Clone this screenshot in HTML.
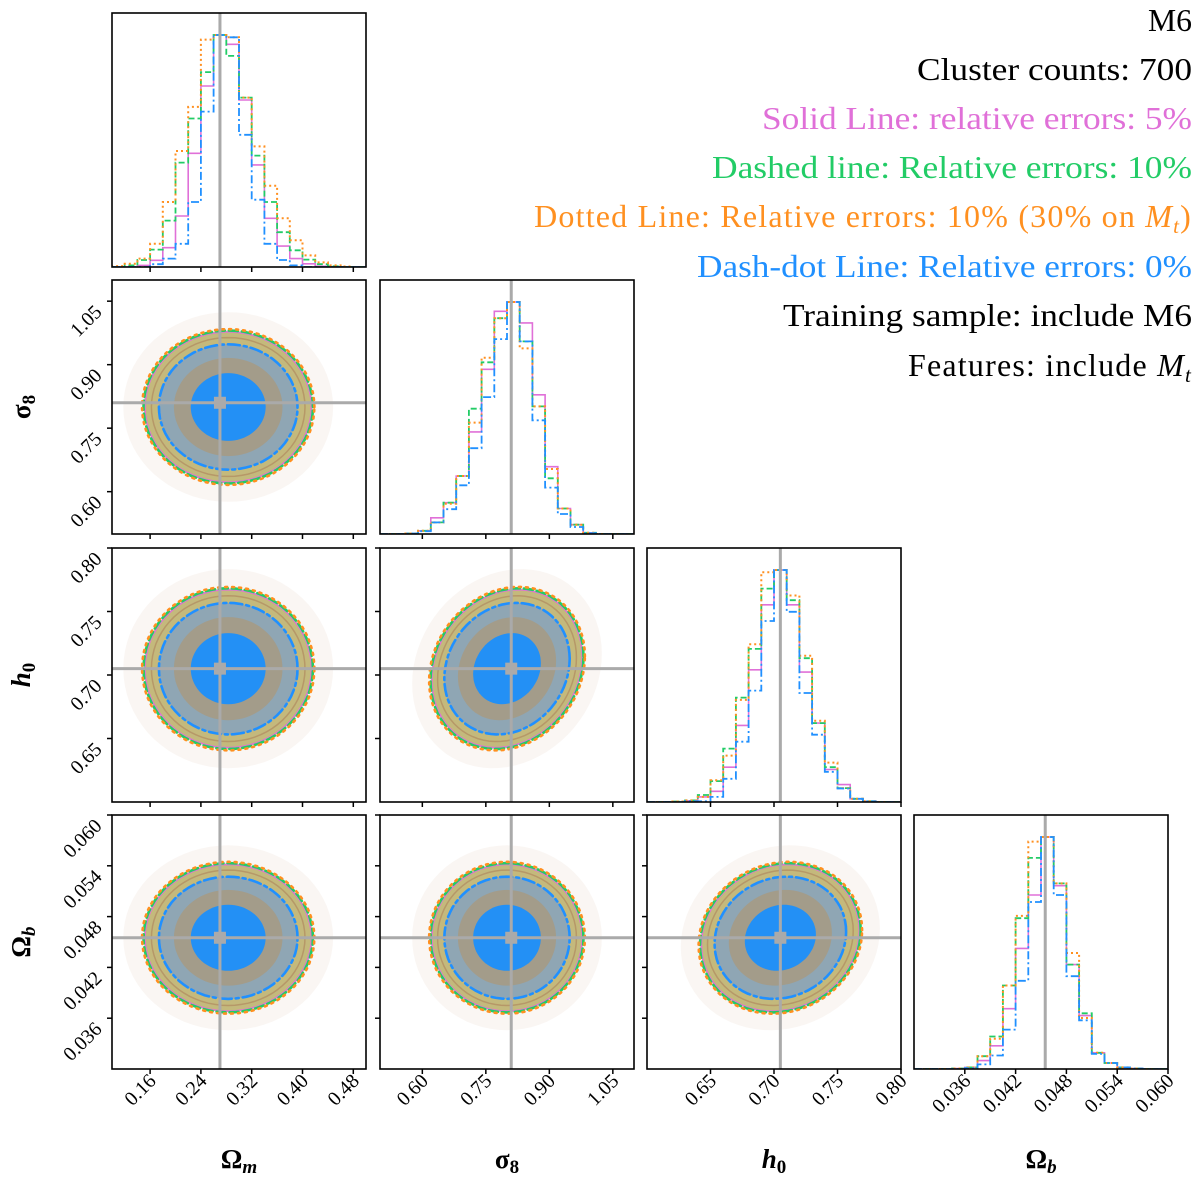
<!DOCTYPE html>
<html><head><meta charset="utf-8"><style>
html,body{margin:0;padding:0;background:#fff;}
svg{display:block;font-family:"Liberation Serif","DejaVu Serif",serif;}
</style></head><body>
<svg id="chart" width="1200" height="1180" viewBox="0 0 1200 1180">
<g id="legend" font-size="32" text-anchor="end">
<text x="1192" y="31" fill="#000" textLength="44" lengthAdjust="spacingAndGlyphs">M6</text>
<text x="1192" y="80" fill="#000" textLength="275" lengthAdjust="spacingAndGlyphs">Cluster counts: 700</text>
<text x="1192" y="129" fill="#e070d8" textLength="430" lengthAdjust="spacingAndGlyphs">Solid Line: relative errors: 5%</text>
<text x="1192" y="178" fill="#22cc66" textLength="480" lengthAdjust="spacingAndGlyphs">Dashed line: Relative errors: 10%</text>
<text x="1192" y="227" fill="#ff9020" letter-spacing="1.2">Dotted Line: Relative errors: 10% (30% on <tspan font-style="italic">M</tspan><tspan font-style="italic" font-size="21" dy="6">t</tspan><tspan dy="-6">)</tspan></text>
<text x="1192" y="277" fill="#2090ff" textLength="495" lengthAdjust="spacingAndGlyphs">Dash-dot Line: Relative errors: 0%</text>
<text x="1192" y="326" fill="#000" textLength="409" lengthAdjust="spacingAndGlyphs">Training sample: include M6</text>
<text x="1192" y="376" fill="#000" letter-spacing="1.2">Features: include <tspan font-style="italic">M</tspan><tspan font-style="italic" font-size="21" dy="6">t</tspan></text>
</g>
</svg>
<script>
// ---- data ----
const paramNames = ["Ωm","σ8","h0","Ωb"];
const paramLo = [0.10, 0.50, 0.60, 0.030];
const paramHi = [0.50, 1.10, 0.80, 0.060];
const truths = [0.27, 0.81, 0.705, 0.0455];
const centers = [0.283, 0.80, 0.705, 0.0455];
const sigmas = [0.059, 0.08, 0.028, 0.0039];
const tickOm = [0.16, 0.24, 0.32, 0.40, 0.48];
const tickS8 = [0.60, 0.75, 0.90, 1.05];
const tickH0 = [0.65, 0.70, 0.75, 0.80];
const tickOb = [0.036, 0.042, 0.048, 0.054, 0.060];
const tickLabOm = ["0.16","0.24","0.32","0.40","0.48"];
const tickLabS8 = ["0.60","0.75","0.90","1.05"];
const tickLabH0 = ["0.65","0.70","0.75","0.80"];
const tickLabOb = ["0.036","0.042","0.048","0.054","0.060"];
const omPink   = [0,0,.007,.029,.083,.22,.49,.78,1.0,.96,.72,.44,.21,.09,.036,.014,.003,0,0,0];
const omGreen  = [0,.007,.03,.075,.2,.45,.64,.84,1.0,.91,.73,.48,.28,.15,.072,.032,.012,.003,0,0];
const omOrange = [.004,.014,.036,.10,.28,.50,.69,.98,1.0,.99,.73,.52,.35,.21,.115,.05,.02,.007,.002,0];
const omBlue   = [0,0,0,.012,.036,.1,.28,.67,1.0,.99,.57,.29,.1,.03,.007,0,0,0,0,0];
const s8Pink   = [0,0,.002,.014,.07,.135,.25,.44,.71,.96,1.0,.91,.60,.29,.11,.04,.005,0,0,0];
const s8Green  = [0,0,.002,.014,.05,.135,.25,.54,.74,.93,1.0,.83,.55,.24,.11,.04,.005,0,0,0];
const s8Orange = [0,0,.002,.014,.05,.13,.25,.48,.76,.93,1.0,.80,.55,.28,.11,.04,.005,0,0,0];
const s8Blue   = [0,0,.002,.012,.05,.107,.21,.37,.59,.84,1.0,.83,.49,.20,.086,.03,.004,0,0,0];
const h0Pink   = [0,0,0,.005,.022,.046,.15,.33,.57,.85,1.0,.85,.56,.34,.14,.075,.014,.003,0,0];
const h0Green  = [0,0,.002,.007,.03,.09,.23,.45,.66,.92,1.0,.87,.62,.34,.15,.06,.014,.003,0,0];
const h0Orange = [0,0,.002,.007,.022,.094,.20,.44,.68,.99,1.0,.89,.63,.35,.17,.06,.014,.003,0,0];
const h0Blue   = [0,0,0,.004,.003,.022,.10,.26,.48,.78,1.0,.82,.47,.29,.13,.058,.014,.003,0,0];
const obPink   = [0,0,0,.002,.007,.036,.10,.26,.52,.75,1.0,.79,.45,.23,.07,.026,.007,.002,0,0];
const obGreen  = [0,0,0,.002,.007,.055,.14,.36,.65,.91,1.0,.80,.45,.24,.07,.026,.007,.002,0,0];
const obOrange = [0,0,0,.002,.007,.055,.13,.36,.66,.98,1.0,.80,.50,.22,.07,.026,.007,.002,0,0];
const obBlue   = [0,0,0,0,.004,.02,.058,.17,.38,.72,1.0,.75,.40,.21,.065,.026,.007,.002,0,0];
const corrS8H0 = 0.15, corrH0Ob = 0.1;

// ---- layout ----
const NS="http://www.w3.org/2000/svg";
const svg=document.getElementById('chart');
const colX=[112,380,647,914], rowY=[13,280,548,815], W=254, H=254;
const ticks=[tickOm,tickS8,tickH0,tickOb];
const tickLabs=[tickLabOm,tickLabS8,tickLabH0,tickLabOb];
const hists=[[omPink,omGreen,omOrange,omBlue],[s8Pink,s8Green,s8Orange,s8Blue],[h0Pink,h0Green,h0Orange,h0Blue],[obPink,obGreen,obOrange,obBlue]];
const styles=[{c:"#e070d8",d:"",w:1.6},{c:"#22cc66",d:"6,3",w:1.8},{c:"#ff9020",d:"2,3",w:2},{c:"#2090ff",d:"8,3,2,3",w:1.8}];
const seriesNames=["solid","dashed","dotted","dashdot"];
function xS(j,v){return colX[j]+(v-paramLo[j])/(paramHi[j]-paramLo[j])*W;}
function yS(i,v){return rowY[i]+H-(v-paramLo[i])/(paramHi[i]-paramLo[i])*H;}
function mk(tag,attrs,parent){const e=document.createElementNS(NS,tag);for(const k in attrs)e.setAttribute(k,attrs[k]);(parent||svg).appendChild(e);return e;}
function corr(a,b){const s=[a,b].sort().join();if(s==="1,2")return corrS8H0;if(s==="2,3")return corrH0Ob;return 0;}
function ellPts(i,j,k){const r=corr(i,j);let p=[];for(let n=0;n<=72;n++){const t=n/72*2*Math.PI;const xv=centers[j]+k*sigmas[j]*Math.cos(t);const yv=centers[i]+k*sigmas[i]*(r*Math.cos(t)+Math.sqrt(1-r*r)*Math.sin(t));p.push(xS(j,xv).toFixed(1)+","+yS(i,yv).toFixed(1));}return p.join(" ");}

for(let i=0;i<4;i++){for(let j=0;j<=i;j++){
  const g=mk('g',{});
  
  
  const cid='clip'+i+j;
  const cp=mk('clipPath',{id:cid},g);mk('rect',{x:colX[j],y:rowY[i],width:W,height:H},cp);
  const inner=mk('g',{'clip-path':'url(#'+cid+')'},g);
  if(i===j){
    const bins=hists[i][0].length, bw=(paramHi[i]-paramLo[i])/bins;
    const top=rowY[i]+H, scale=232;
    hists[i].forEach((arr,s)=>{
      let d="M"+xS(i,paramLo[i])+","+top;
      arr.forEach((v,b)=>{const y=top-v*scale;d+=" L"+xS(i,paramLo[i]+b*bw).toFixed(1)+","+y.toFixed(1)+" L"+xS(i,paramLo[i]+(b+1)*bw).toFixed(1)+","+y.toFixed(1);});
      d+=" L"+xS(i,paramHi[i])+","+top;
      const p=mk('path',{d:d,fill:"none",stroke:styles[s].c,'stroke-width':styles[s].w,'stroke-dasharray':styles[s].d},inner);
      
      
    });
    const tl=mk('line',{x1:xS(i,truths[i]),x2:xS(i,truths[i]),y1:rowY[i],y2:rowY[i]+H,stroke:"#aaa",'stroke-width':3},inner);
    
    
  } else {
    mk('polygon',{points:ellPts(i,j,2.8),fill:"#f3ece4",opacity:0.45},inner);
    const layers=[[2.25,"#c4b97c",1],[1.85,"#8fa6b4",1],[1.45,"#a9987c",0.75],[1.0,"#2390f5",1]];
    layers.forEach(L=>{const p=mk('polygon',{points:ellPts(i,j,L[0]),fill:L[1],opacity:L[2]},inner);
      
      });
    mk('polygon',{points:ellPts(i,j,2.05),fill:"none",stroke:"#b08a60",'stroke-width':1.5,opacity:0.7},inner);
    const lines=[[2.22,0],[2.26,1],[2.3,2],[1.85,3]];
    lines.forEach(L=>{const st=styles[L[1]];const p=mk('polygon',{points:ellPts(i,j,L[0]),fill:"none",stroke:st.c,'stroke-width':L[1]===0?1.5:2.6,'stroke-dasharray':L[1]===2?"2,5":(L[1]===1?"9,4":(L[1]===3?"12,4,3,4":"")),'stroke-linecap':"round"},inner);
      
      });
    const tx=xS(j,truths[j]), ty=yS(i,truths[i]);
    mk('line',{x1:tx,x2:tx,y1:rowY[i],y2:rowY[i]+H,stroke:"#aaa",'stroke-width':3},inner);
    mk('line',{x1:colX[j],x2:colX[j]+W,y1:ty,y2:ty,stroke:"#aaa",'stroke-width':3},inner);
    const m=mk('rect',{x:tx-6,y:ty-6,width:12,height:12,fill:"#aaa"},inner);
    
    
    ticks[i].forEach(v=>{mk('line',{x1:colX[j]-5,x2:colX[j],y1:yS(i,v),y2:yS(i,v),stroke:"#000",'stroke-width':1.5},g);});
  }
  const fr=mk('rect',{x:colX[j],y:rowY[i],width:W,height:H,fill:"none",stroke:"#000",'stroke-width':1.6},g);
  
  
  ticks[j].forEach(v=>{mk('line',{x1:xS(j,v),x2:xS(j,v),y1:rowY[i]+H,y2:rowY[i]+H+5,stroke:"#000",'stroke-width':1.5},g);});
  if(i===3){ticks[j].forEach((v,k)=>{const x=xS(j,v)+7,y=rowY[3]+H+13;
    const t=mk('text',{x:x,y:y,'font-size':20,'text-anchor':"end",transform:"rotate(-45 "+x+" "+y+")"},svg);t.textContent=tickLabs[j][k];
    
    });}
  if(j===0&&i>0){ticks[i].forEach((v,k)=>{const x=colX[0]-9,y=yS(i,v)+12;
    const t=mk('text',{x:x,y:y,'font-size':20,'text-anchor':"end",transform:"rotate(-45 "+x+" "+y+")"},svg);t.textContent=tickLabs[i][k];
    
    });}
}}
const titleHtml=[["Ω","m",true],["σ","8",false],["h","0",false],["Ω","b",true]];
for(let j=0;j<4;j++){
  const t=mk('text',{x:colX[j]+W/2,y:1168,'font-size':27,'font-weight':"bold",'text-anchor':"middle"},svg);
  
  
  const a=mk('tspan',{'font-style':j===2?"italic":"normal"},t);a.textContent=titleHtml[j][0];
  const b=mk('tspan',{'font-size':19,dy:5,'font-style':titleHtml[j][2]?"italic":"normal"},t);b.textContent=titleHtml[j][1];
}
for(let i=1;i<4;i++){
  const cx=30, cy=rowY[i]+H/2;
  const t=mk('text',{x:cx,y:cy,'font-size':27,'font-weight':"bold",'text-anchor':"middle",transform:"rotate(-90 "+cx+" "+cy+")"},svg);
  
  
  const a=mk('tspan',{'font-style':i===2?"italic":"normal"},t);a.textContent=titleHtml[i][0];
  const b=mk('tspan',{'font-size':19,dy:5,'font-style':titleHtml[i][2]?"italic":"normal"},t);b.textContent=titleHtml[i][1];
}
svg.appendChild(document.getElementById('legend'));
</script>
</body></html>
